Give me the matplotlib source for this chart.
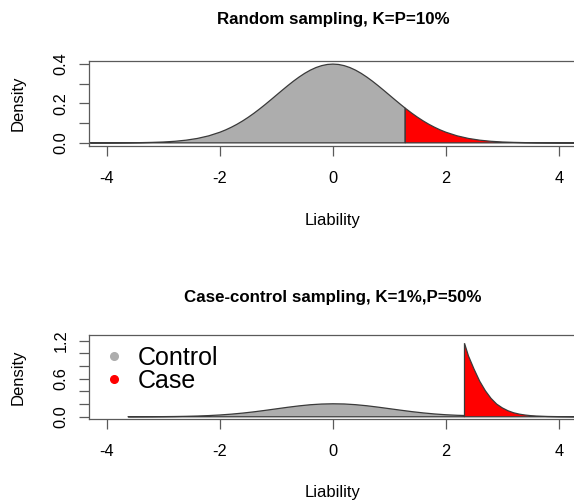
import matplotlib.pyplot as plt
import numpy as np
from matplotlib.lines import Line2D

plt.rcParams['font.family'] = ['Liberation Sans', 'DejaVu Sans']

# top panel: standard normal liability, threshold at the 90th percentile
rand_x = [-4.3, -4.0, -3.8, -3.6, -3.4, -3.2, -3.0, -2.8, -2.6, -2.4, -2.2,
          -2.0, -1.9, -1.8, -1.7, -1.6, -1.5, -1.4, -1.3, -1.2, -1.1, -1.0,
          -0.9, -0.8, -0.7, -0.6, -0.5, -0.4, -0.3, -0.2, -0.1, 0.0,
          0.1, 0.2, 0.3, 0.4, 0.5, 0.6, 0.7, 0.8, 0.9, 1.0, 1.1, 1.2, 1.28,
          1.3, 1.4, 1.5, 1.6, 1.7, 1.8, 1.9, 2.0, 2.2, 2.4, 2.6, 2.8, 3.0,
          3.2, 3.4, 3.6, 3.8, 4.0, 4.3]
rand_dens = [0.0000, 0.0001, 0.0003, 0.0006, 0.0012, 0.0024, 0.0044, 0.0079,
             0.0136, 0.0224, 0.0355,
             0.0540, 0.0656, 0.0790, 0.0940, 0.1109, 0.1295, 0.1497, 0.1714,
             0.1942, 0.2179, 0.2420,
             0.2661, 0.2897, 0.3123, 0.3332, 0.3521, 0.3683, 0.3814, 0.3910,
             0.3970, 0.3989,
             0.3970, 0.3910, 0.3814, 0.3683, 0.3521, 0.3332, 0.3123, 0.2897,
             0.2661, 0.2420, 0.2179, 0.1942, 0.1758,
             0.1714, 0.1497, 0.1295, 0.1109, 0.0940, 0.0790, 0.0656, 0.0540,
             0.0355, 0.0224, 0.0136, 0.0079, 0.0044,
             0.0024, 0.0012, 0.0006, 0.0003, 0.0001, 0.0000]
rand_thr = 1.28

# bottom panel: controls and cases in a case-control sample
ctrl_x = [-3.63, -3.4, -3.2, -3.0, -2.8, -2.6, -2.4, -2.2, -2.0, -1.8, -1.6,
          -1.4, -1.2, -1.0, -0.8, -0.6, -0.4, -0.2, 0.0, 0.2, 0.4, 0.6, 0.8,
          1.0, 1.2, 1.4, 1.6, 1.8, 2.0, 2.2, 2.33]
ctrl_dens = [0.0003, 0.0007, 0.0013, 0.0025, 0.0043, 0.0073, 0.0119, 0.0188,
             0.0285, 0.0415, 0.0580, 0.0780, 0.1010, 0.1255, 0.1500, 0.1720,
             0.1900, 0.2010, 0.2050, 0.2020, 0.1910, 0.1740, 0.1520, 0.1280,
             0.1040, 0.0810, 0.0610, 0.0445, 0.0320, 0.0235, 0.0200]
case_x = [2.33, 2.4, 2.5, 2.6, 2.7, 2.8, 2.9, 3.0, 3.1, 3.2, 3.3, 3.4, 3.5,
          3.6, 3.8, 4.0, 4.3]
case_dens = [1.16, 0.96, 0.75, 0.56, 0.41, 0.29, 0.20, 0.14, 0.095, 0.063,
             0.042, 0.028, 0.018, 0.012, 0.005, 0.002, 0.0]

titles = ['Random sampling, K=P=10%', 'Case-control sampling, K=1%,P=50%']
legend_labels = ['Control', 'Case']

grey = '#ADADAD'
red = '#FF0000'
edge = '#3A3A3A'
frame = '#5A5A5A'


def polygon(ax, x, y, color):
    x = np.asarray(x)
    y = np.asarray(y)
    px = np.concatenate([x, [x[-1], x[0]]])
    py = np.concatenate([y, [0, 0]])
    ax.fill(px, py, facecolor=color, edgecolor=edge, lw=0.9)


def style(ax, yticks, ylabels, title, title_y):
    ax.set_xlim(-4.32, 4.32)
    ax.set_xticks([-4, -2, 0, 2, 4])
    ax.set_xticklabels(['-4', '-2', '0', '2', '4'])
    ax.set_yticks(yticks)
    ax.set_yticklabels(ylabels, rotation=90, va='center')
    ax.tick_params(length=7.5, width=0.9, color=frame, labelsize=11.8)
    ax.tick_params(axis='x', pad=10.5)
    ax.tick_params(axis='y', pad=7)
    for s in ax.spines.values():
        s.set_color(frame)
        s.set_linewidth(0.9)
    ax.set_xlabel('Liability', fontsize=12)
    ax.set_ylabel('Density', fontsize=12)
    ax.xaxis.set_label_coords(0.5, -0.87)
    ax.yaxis.set_label_coords(-0.145, 0.5)
    ax.xaxis.label.set_va('center')
    ax.yaxis.label.set_va('center')
    ax.set_title(title, fontsize=12.2, fontweight='bold', y=title_y, pad=0)


fig = plt.figure(figsize=(5.74, 5.03), dpi=100)

top = fig.add_axes([0.155, 0.7097, 0.850, 0.1696])
rx = np.asarray(rand_x)
ry = np.asarray(rand_dens)
polygon(top, rx[rx <= rand_thr], ry[rx <= rand_thr], grey)
polygon(top, rx[rx >= rand_thr], ry[rx >= rand_thr], red)
top.set_ylim(-0.016, 0.416)
style(top, [0, 0.1, 0.2, 0.3, 0.4], ['0.0', '', '0.2', '', '0.4'],
      titles[0], 1.43)

bot = fig.add_axes([0.155, 0.167, 0.850, 0.167])
polygon(bot, ctrl_x, ctrl_dens, grey)
polygon(bot, case_x, case_dens, red)
bot.set_ylim(-0.035, 1.29)
style(bot, [0, 0.2, 0.4, 0.6, 0.8, 1.0, 1.2],
      ['0.0', '', '', '0.6', '', '', '1.2'], titles[1], 1.39)

handles = [Line2D([], [], ls='', marker='o', ms=5.5, color=c) for c in (grey, red)]
bot.legend(handles, legend_labels, loc='upper left', bbox_to_anchor=(0.012, 0.99),
           frameon=False, fontsize=18, handlelength=0.7, handletextpad=0.6,
           labelspacing=-0.05, borderpad=0.2, borderaxespad=0.2)

fig.savefig('out.png', dpi=100)
